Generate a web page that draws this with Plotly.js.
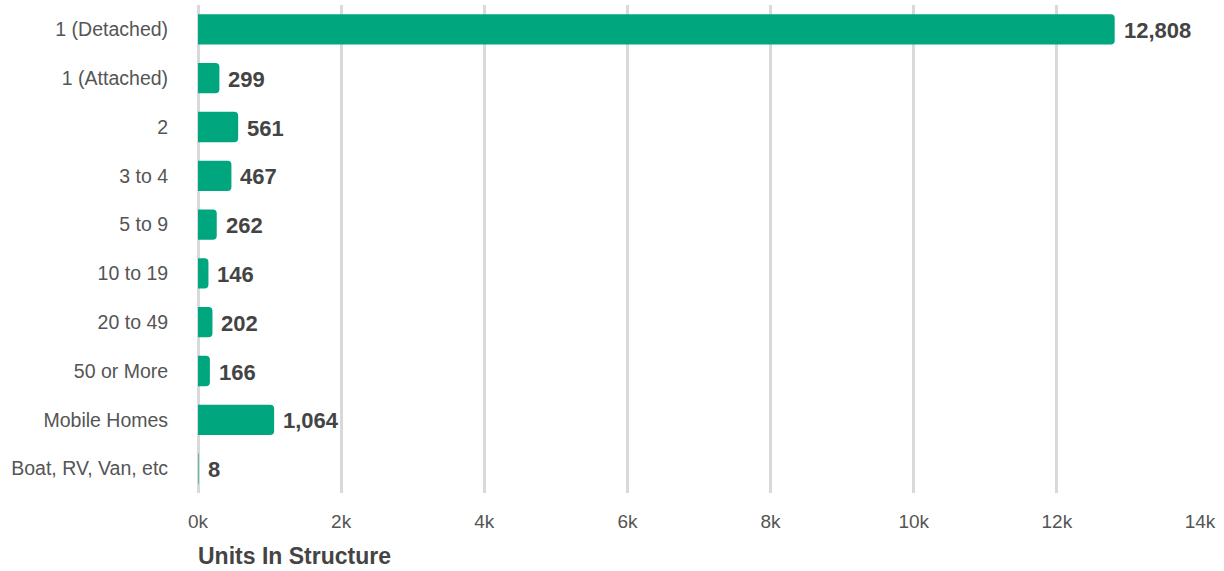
<!DOCTYPE html>
<html><head><meta charset="utf-8">
<script src="https://cdn.plot.ly/plotly-3.0.1.min.js"></script>
<style>html,body{margin:0;padding:0;background:#fff}#chart{width:1224px;height:571px}</style>
</head><body><div id="chart"></div>
<script>
const categories = ["1 (Detached)","1 (Attached)","2","3 to 4","5 to 9","10 to 19","20 to 49","50 or More","Mobile Homes","Boat, RV, Van, etc"];
const values = [12808,299,561,467,262,146,202,166,1064,8];
const tickValues = [0,2000,4000,6000,8000,10000,12000,14000];
const tickLabels = ["0k","2k","4k","6k","8k","10k","12k","14k"];
const axisTitle = "Units In Structure";

const font = "Liberation Sans, Arial, sans-serif";
const trace = {
  type: "bar", orientation: "h",
  y: categories, x: values,
  marker: {color: "#00A67E", cornerradius: 4},
  width: 0.62,
  hoverinfo: "none"
};
const annotations = categories.map((c,i)=>({
  x: values[i], y: c, xref: "x", yref: "y",
  text: "<b>"+values[i].toLocaleString("en-US")+"</b>",
  showarrow: false, xanchor: "left", yanchor: "middle", xshift: 7, yshift: -1,
  font: {family: font, size: 22, color: "#444444"}
}));
annotations.push({
  xref: "paper", yref: "paper", x: 0, y: 0, xanchor: "left", yanchor: "middle",
  yshift: -63, xshift: -2, text: "<b>"+axisTitle+"</b>", showarrow: false,
  font: {family: font, size: 23, color: "#444444"}
});
const layout = {
  width: 1224, height: 571,
  margin: {l: 198, r: 24, t: 5, b: 78},
  paper_bgcolor: "#fff", plot_bgcolor: "#fff",
  showlegend: false,
  bargap: 0.38,
  xaxis: {
    range: [0, 14000], tickvals: tickValues, ticktext: tickLabels,
    showgrid: true, gridcolor: "#d9d9d9", gridwidth: 3,
    zeroline: true, zerolinecolor: "#d9d9d9", zerolinewidth: 3,
    showline: false, ticks: "outside", ticklen: 11, tickcolor: "rgba(0,0,0,0)",
    tickfont: {family: font, size: 19, color: "#555555"}, fixedrange: true
  },
  yaxis: {
    autorange: "reversed", showgrid: false, zeroline: false, showline: false,
    ticks: "outside", ticklen: 25, tickcolor: "rgba(0,0,0,0)",
    tickfont: {family: font, size: 19.5, color: "#555555"}, fixedrange: true
  },
  annotations: annotations
};
Plotly.newPlot("chart", [trace], layout, {displayModeBar: false, staticPlot: true});
</script></body></html>
